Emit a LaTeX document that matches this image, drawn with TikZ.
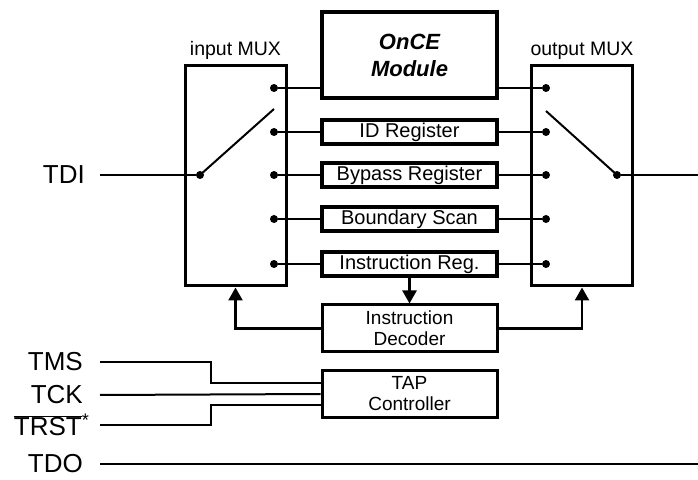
\documentclass[tikz,border=0pt]{standalone}
\usepackage{fontspec}
\setmainfont{Liberation Sans}
\usetikzlibrary{arrows.meta, positioning, calc}

\begin{document}
\begin{tikzpicture}[
  x=1pt, y=1pt,
  mux/.style={rectangle, draw, line width=3pt, minimum width=101pt, minimum height=220pt, inner sep=0pt},
  reg/.style={rectangle, draw, line width=3.2pt, minimum width=175pt, minimum height=24pt, inner sep=0pt, font=\fontsize{20}{22}\selectfont},
  ctrl/.style={rectangle, draw, line width=3pt, minimum width=175pt, minimum height=46pt, inner sep=0pt, align=center, font=\fontsize{19}{21}\selectfont},
  muxlabel/.style={font=\fontsize{19.5}{22}\selectfont, inner sep=0pt},
  pin/.style={anchor=east, inner sep=0pt, font=\fontsize{26}{28}\selectfont},
  dot/.style={circle, fill, inner sep=0pt, minimum size=8pt},
  wire/.style={line width=2pt},
  arrow/.style={line width=2.5pt, -{Triangle[width=14pt,length=13pt]}}
]
  \useasboundingbox (0,0) rectangle (698,479);

  % Multiplexers
  \node[mux] (inmux) at (235.5,303) {};
  \node[mux] (outmux) at (582,303) {};
  \node[muxlabel, above=5pt of inmux] {input MUX};
  \node[muxlabel, above=5pt of outmux] {output MUX};

  % Data registers
  \node[reg, minimum height=86pt, align=center, font=\fontsize{22}{27}\selectfont\bfseries\itshape] (once) at (409.5,424) {OnCE\\Module};
  \node[reg] (idreg) at (409.5,347) {ID Register};
  \node[reg] (bypass) at (409.5,304) {Bypass Register};
  \node[reg] (bscan) at (409.5,260) {Boundary Scan};
  \node[reg] (instreg) at (409.5,215) {Instruction Reg.};

  % Control blocks
  \node[ctrl, minimum height=47pt] (decoder) at (409.5,150.5) {Instruction\\Decoder};
  \node[ctrl] (tap) at (409.5,85) {TAP\\Controller};

  % Switch contacts
  \foreach \y [count=\i] in {391,347,304,260,215} {
    \node[dot] (i\i) at (274,\y) {};
    \node[dot] (o\i) at (546,\y) {};
  }
  \node[dot] (ipiv) at (200,304) {};
  \node[dot] (opiv) at (617,304) {};
  \coordinate (iarm) at (274,370);
  \coordinate (oarm) at (546,368);
  \coordinate (mout) at (698,304);

  % Pins
  \node[pin] (tdi) at (85,304) {TDI};
  \node[pin] (tms) at (83,117) {TMS};
  \node[pin] (tck) at (83,84) {TCK};
  \node[pin] (trst) at (82,54) {$\overline{\mbox{TRST}}$\rlap{\textsuperscript{*}}};
  \node[pin] (tdo) at (83,15) {TDO};
  \coordinate (tdoend) at (698,15);

  % Switches
  \draw[wire] (ipiv.center) -- (iarm);
  \draw[wire] (opiv.center) -- (oarm);

  % Wires
  \draw[wire] ([xshift=15pt]tdi.east) -- (ipiv);
  \draw[wire] (opiv) -- (mout);
  \draw[wire] (i1) -- (i1 -| once.west);
  \draw[wire] (o1) -- (o1 -| once.east);
  \foreach \r [count=\i from 2] in {idreg,bypass,bscan,instreg} {
    \draw[wire] (i\i) -- (\r.west);
    \draw[wire] (o\i) -- (\r.east);
  }

  % Arrows
  \draw[arrow] (instreg.south) -- (decoder.north);
  \draw[arrow] (decoder.west) -| (inmux.south);
  \draw[arrow] (decoder.east) -| (outmux.south);

  % TAP inputs
  \draw[wire] ([xshift=17pt]tms.east) -| ([xshift=-110pt,yshift=11pt]tap.west) -- ([yshift=11pt]tap.west);
  \draw[wire] ([xshift=17pt]tck.east) -- (tap.west);
  \draw[wire] ([xshift=18pt]trst.east) -| ([xshift=-110pt,yshift=-11pt]tap.west) -- ([yshift=-11pt]tap.west);
  \draw[wire] ([xshift=17pt]tdo.east) -- (tdoend);
\end{tikzpicture}
\end{document}
